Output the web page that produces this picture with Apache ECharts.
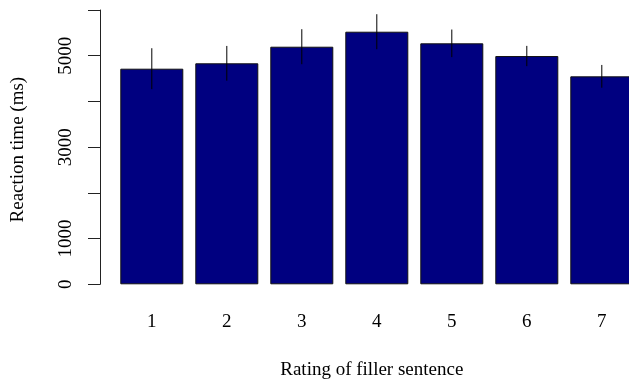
<!DOCTYPE html>
<html>
<head>
<meta charset="utf-8">
<script src="https://cdn.jsdelivr.net/npm/echarts@6/dist/echarts.min.js"></script>
<style>
html,body{margin:0;padding:0;background:#fff;}
#chart{width:629px;height:379px;}
</style>
</head>
<body>
<div id="chart"></div>
<script>
var categories = ['1', '2', '3', '4', '5', '6', '7'];
var meanRT = [4716, 4834, 5197, 5525, 5271, 4993, 4549];
var errRT = [448, 380, 383, 383, 302, 222, 249];
var yTickValues = [0, 1000, 2000, 3000, 4000, 5000, 6000];
var yTickLabels = ['0', '1000', '', '3000', '', '5000', ''];

var FONT = 'Liberation Serif';
var chart = echarts.init(document.getElementById('chart'), null, {renderer: 'canvas'});

var errData = categories.map(function (c, i) {
  return [i, meanRT[i] - errRT[i], meanRT[i] + errRT[i]];
});

chart.setOption({
  animation: false,
  backgroundColor: '#ffffff',
  grid: {left: 114.3, right: -10.3, top: 10, bottom: 94.7, containLabel: false, outerBoundsMode: 'none'},
  xAxis: {
    type: 'category',
    data: categories,
    boundaryGap: true,
    axisLine: {show: false},
    axisTick: {show: false},
    axisLabel: {color: '#000', fontFamily: FONT, fontSize: 19, margin: 28},
    name: 'Rating of filler sentence',
    nameLocation: 'middle',
    nameGap: 76,
    nameTextStyle: {color: '#000', fontFamily: FONT, fontSize: 19, padding: [0, 10, 0, 0]}
  },
  yAxis: {
    type: 'value',
    min: 0,
    max: 6000,
    interval: 1000,
    offset: 14.3,
    splitLine: {show: false},
    axisLine: {show: true, lineStyle: {color: '#222', width: 1}},
    axisTick: {show: true, length: 12, lineStyle: {color: '#222', width: 1}},
    axisLabel: {
      color: '#000', fontFamily: FONT, fontSize: 19, rotate: 90, margin: 24,
      formatter: function (v) {
        var idx = yTickValues.indexOf(v);
        return idx >= 0 ? yTickLabels[idx] : '';
      }
    },
    name: 'Reaction time (ms)',
    nameLocation: 'middle',
    nameGap: 72,
    nameRotate: 90,
    nameTextStyle: {color: '#000', fontFamily: FONT, fontSize: 19, padding: [0, 5, 0, 0]}
  },
  series: [
    {
      type: 'bar',
      data: meanRT,
      barWidth: 63,
      itemStyle: {color: '#000080', borderColor: '#111', borderWidth: 1}
    },
    {
      type: 'custom',
      data: errData,
      z: 10,
      renderItem: function (params, api) {
        var x = api.value(0);
        var lo = api.coord([x, api.value(1)]);
        var hi = api.coord([x, api.value(2)]);
        return {
          type: 'line',
          shape: {x1: lo[0], y1: lo[1], x2: hi[0], y2: hi[1]},
          style: {stroke: '#000', lineWidth: 1}
        };
      }
    }
  ]
});
</script>
</body>
</html>
